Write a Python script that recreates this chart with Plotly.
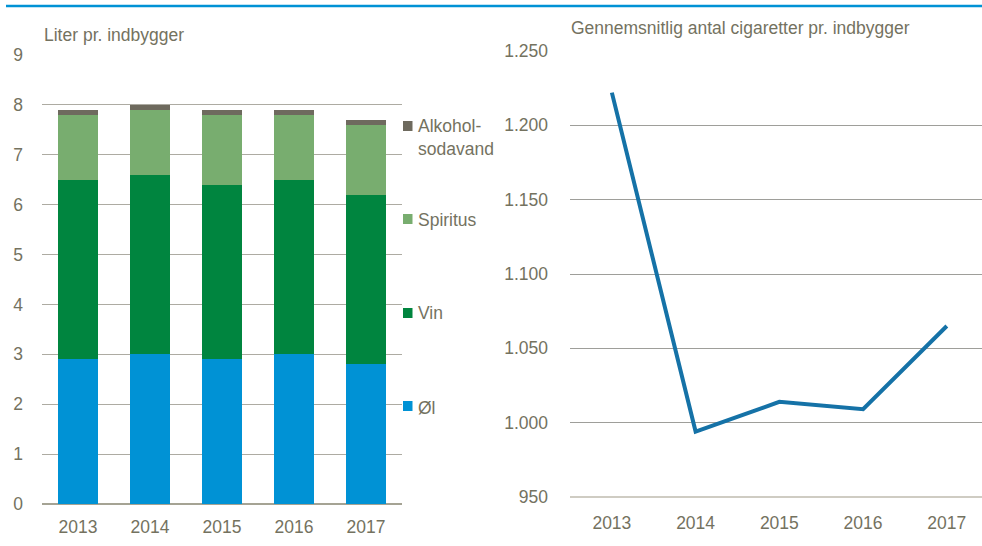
import plotly.graph_objects as go

years = ["2013", "2014", "2015", "2016", "2017"]
ol = [2.9, 3.0, 2.9, 3.0, 2.8]
vin = [3.6, 3.6, 3.5, 3.5, 3.4]
spiritus = [1.3, 1.3, 1.4, 1.3, 1.4]
alkoholsodavand = [0.1, 0.1, 0.1, 0.1, 0.1]
cigaretter = [1222, 994, 1014, 1009, 1065]

series_names = ["Øl", "Vin", "Spiritus", "Alkohol-<br>sodavand"]
series_vals = [ol, vin, spiritus, alkoholsodavand]
colors = ["#0092D5", "#00853F", "#78AD6F", "#6E6A5E"]

FONT = "Liberation Sans, Arial, sans-serif"
TXT = "#74725F"
W, H = 982, 546
TICK = 17.5
TITLE = 17.5

fig = go.Figure()
for name, vals, col in zip(series_names, series_vals, colors):
    fig.add_trace(go.Bar(x=years, y=vals, name=name, marker=dict(color=col, line=dict(width=0)),
                         xaxis="x", yaxis="y", showlegend=False))

fig.add_trace(go.Scatter(x=years, y=cigaretter, mode="lines", line=dict(color="#1572A7", width=4),
                         xaxis="x2", yaxis="y2", showlegend=False))

def px_x(v):
    return v / W

def px_y(v):
    return 1 - v / H

fig.update_layout(
    width=W, height=H, autosize=False,
    margin=dict(l=0, r=0, t=0, b=0, pad=0),
    paper_bgcolor="white", plot_bgcolor="white",
    barmode="stack", bargap=0.444,
    separators=",.",
    font=dict(family=FONT, color=TXT, size=TICK),
    xaxis=dict(domain=[px_x(42), px_x(402)], showgrid=False, ticks="", showline=False,
               automargin=False, tickfont=dict(size=TICK, color=TXT), ticklabelstandoff=10,
               anchor="y"),
    yaxis=dict(domain=[px_y(504), px_y(55)], range=[0, 9], dtick=1, showgrid=True,
               gridcolor="#ADABA2", gridwidth=1, zeroline=True, zerolinecolor="#A5A394",
               zerolinewidth=1.5, ticks="", showline=False, automargin=False,
               tickfont=dict(size=TICK, color=TXT), ticklabelstandoff=18, anchor="x"),
    xaxis2=dict(domain=[px_x(570), px_x(982)], range=[-0.5, 4.42], showgrid=False, ticks="",
                showline=False, automargin=False, tickfont=dict(size=TICK, color=TXT),
                ticklabelstandoff=13, anchor="y2"),
    yaxis2=dict(domain=[px_y(497), px_y(51)], range=[950, 1250], dtick=50, tickformat=",d",
                showgrid=True, gridcolor="#9E9E9A", gridwidth=1, zeroline=False, ticks="",
                showline=False, automargin=False, tickfont=dict(size=TICK, color=TXT),
                ticklabelstandoff=21, anchor="x2"),
)

shapes = [
    dict(type="line", xref="paper", yref="paper", x0=px_x(6), x1=px_x(982), y0=px_y(6),
         y1=px_y(6), line=dict(color="#0092D5", width=2.5)),
    dict(type="line", xref="paper", yref="paper", x0=px_x(570), x1=px_x(982), y0=px_y(497),
         y1=px_y(497), line=dict(color="#CFCCC3", width=2)),
]
# legend squares (top y in px for each series: Øl, Vin, Spiritus, Alkohol)
leg_top = [401, 308, 214, 121]
for top, col in zip(leg_top, colors):
    shapes.append(dict(type="rect", xref="paper", yref="paper", x0=px_x(403), x1=px_x(412.5),
                       y0=px_y(top + 10), y1=px_y(top), fillcolor=col, line=dict(width=0)))

annotations = [
    dict(text="Liter pr. indbygger", xref="paper", yref="paper", x=px_x(42), y=px_y(35),
         xanchor="left", yanchor="middle", showarrow=False, font=dict(size=TITLE, color=TXT)),
    dict(text="Gennemsnitlig antal cigaretter pr. indbygger", xref="paper", yref="paper",
         x=px_x(569), y=px_y(28), xanchor="left", yanchor="middle", showarrow=False,
         font=dict(size=TITLE, color=TXT)),
]
leg_center = [408, 313, 220, 137.5]
for name, cy in zip(series_names, leg_center):
    annotations.append(dict(text=name, xref="paper", yref="paper", x=px_x(416), y=px_y(cy),
                            xanchor="left", yanchor="middle", align="left", showarrow=False,
                            font=dict(size=TITLE, color=TXT)))

fig.update_layout(shapes=shapes, annotations=annotations)
fig.write_html("out.html", config={"displayModeBar": False},
               post_script="document.body.style.margin='0';")
